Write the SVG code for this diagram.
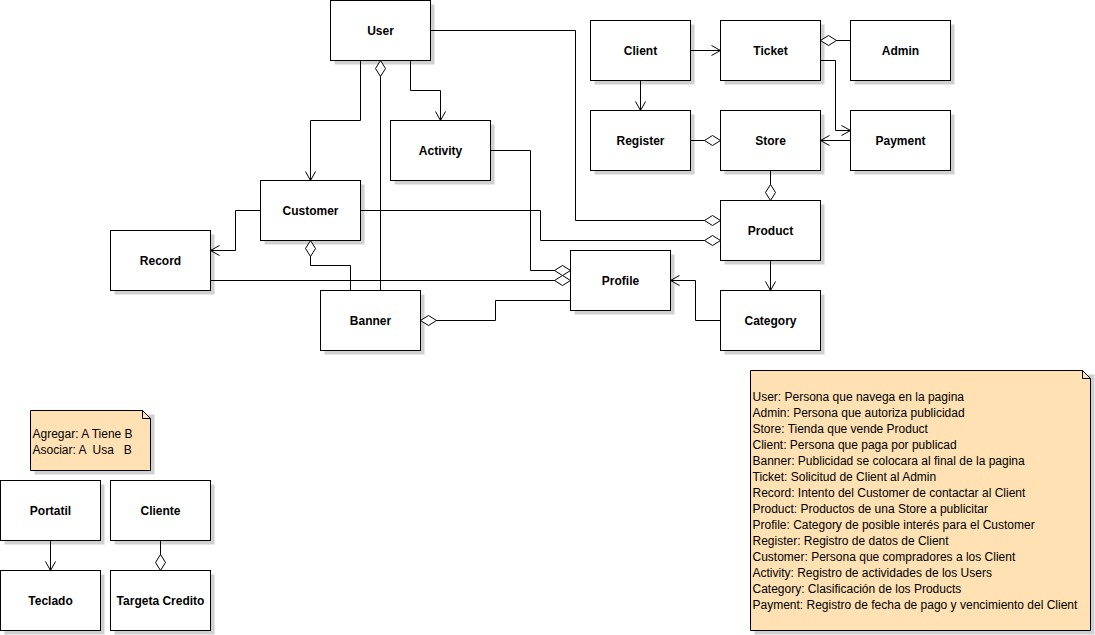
<svg xmlns="http://www.w3.org/2000/svg" width="1095" height="635" viewBox="0 0 1095 635">
<style>
.box{fill:#fff;stroke:#000;stroke-width:1}
.sh{fill:#d0d0d0;stroke:none}
.lbl{font-family:"Liberation Sans",Arial,sans-serif;font-size:12px;font-weight:bold;text-anchor:middle;fill:#000}
.note{fill:#ffe1b4;stroke:#000;stroke-width:1}
.nt{font-family:"Liberation Sans",Arial,sans-serif;font-size:12px;fill:#000;white-space:pre}
.c{fill:none;stroke:#000;stroke-width:1}
.ar{marker-end:url(#arrow)}
.dm{marker-end:url(#diamond)}
</style>
<defs>
<marker id="arrow" markerUnits="userSpaceOnUse" markerWidth="12" markerHeight="12" viewBox="0 0 12 12" refX="10" refY="6" orient="auto">
<path d="M1,1 L10,6 L1,11" fill="none" stroke="#000" stroke-width="1"/>
</marker>
<marker id="diamond" markerUnits="userSpaceOnUse" markerWidth="18" markerHeight="12" viewBox="0 0 18 12" refX="17" refY="6" orient="auto">
<path d="M1,6 L9,1 L17,6 L9,11 Z" fill="#fff" stroke="#000" stroke-width="1"/>
</marker>
</defs>
<rect x="0" y="0" width="1095" height="635" fill="#fff"/>
<g transform="translate(0.5,0.5)">
<g id="nodes">
<g id="User"><rect class="sh" x="334" y="4" width="100" height="60"/><rect class="box" x="330" y="0" width="100" height="60"/><text class="lbl" x="380" y="34">User</text></g>
<g id="Activity"><rect class="sh" x="394" y="124" width="100" height="60"/><rect class="box" x="390" y="120" width="100" height="60"/><text class="lbl" x="440" y="154">Activity</text></g>
<g id="Customer"><rect class="sh" x="264" y="184" width="100" height="60"/><rect class="box" x="260" y="180" width="100" height="60"/><text class="lbl" x="310" y="214">Customer</text></g>
<g id="Record"><rect class="sh" x="114" y="234" width="100" height="60"/><rect class="box" x="110" y="230" width="100" height="60"/><text class="lbl" x="160" y="264">Record</text></g>
<g id="Banner"><rect class="sh" x="324" y="294" width="100" height="60"/><rect class="box" x="320" y="290" width="100" height="60"/><text class="lbl" x="370" y="324">Banner</text></g>
<g id="Profile"><rect class="sh" x="574" y="254" width="100" height="60"/><rect class="box" x="570" y="250" width="100" height="60"/><text class="lbl" x="620" y="284">Profile</text></g>
<g id="Client"><rect class="sh" x="594" y="24" width="100" height="60"/><rect class="box" x="590" y="20" width="100" height="60"/><text class="lbl" x="640" y="54">Client</text></g>
<g id="Ticket"><rect class="sh" x="724" y="24" width="100" height="60"/><rect class="box" x="720" y="20" width="100" height="60"/><text class="lbl" x="770" y="54">Ticket</text></g>
<g id="Admin"><rect class="sh" x="854" y="24" width="100" height="60"/><rect class="box" x="850" y="20" width="100" height="60"/><text class="lbl" x="900" y="54">Admin</text></g>
<g id="Register"><rect class="sh" x="594" y="114" width="100" height="60"/><rect class="box" x="590" y="110" width="100" height="60"/><text class="lbl" x="640" y="144">Register</text></g>
<g id="Store"><rect class="sh" x="724" y="114" width="100" height="60"/><rect class="box" x="720" y="110" width="100" height="60"/><text class="lbl" x="770" y="144">Store</text></g>
<g id="Payment"><rect class="sh" x="854" y="114" width="100" height="60"/><rect class="box" x="850" y="110" width="100" height="60"/><text class="lbl" x="900" y="144">Payment</text></g>
<g id="Product"><rect class="sh" x="724" y="204" width="100" height="60"/><rect class="box" x="720" y="200" width="100" height="60"/><text class="lbl" x="770" y="234">Product</text></g>
<g id="Category"><rect class="sh" x="724" y="294" width="100" height="60"/><rect class="box" x="720" y="290" width="100" height="60"/><text class="lbl" x="770" y="324">Category</text></g>
<g id="Portatil"><rect class="sh" x="4" y="484" width="100" height="60"/><rect class="box" x="0" y="480" width="100" height="60"/><text class="lbl" x="50" y="514">Portatil</text></g>
<g id="Cliente"><rect class="sh" x="114" y="484" width="100" height="60"/><rect class="box" x="110" y="480" width="100" height="60"/><text class="lbl" x="160" y="514">Cliente</text></g>
<g id="Teclado"><rect class="sh" x="4" y="574" width="100" height="60"/><rect class="box" x="0" y="570" width="100" height="60"/><text class="lbl" x="50" y="604">Teclado</text></g>
<g id="TargetaCredito"><rect class="sh" x="114" y="574" width="100" height="60"/><rect class="box" x="110" y="570" width="100" height="60"/><text class="lbl" x="160" y="604">Targeta Credito</text></g>
<g id="LegendNote">
<path class="sh" d="M34,414 H154 V474 H34 Z"/>
<path class="note" d="M30,410 H142 L150,418 V470 H30 Z"/>
<path class="c" d="M142,410 V418 H150"/>
<text class="nt" x="32" y="437" xml:space="preserve">Agregar: A Tiene B</text>
<text class="nt" x="32" y="453" xml:space="preserve">Asociar: A  Usa   B</text>
</g>
<g id="GlossaryNote">
<path class="sh" d="M754,374 H1094 V634 H754 Z"/>
<path class="note" d="M750,370 H1082 L1090,378 V630 H750 Z"/>
<path class="c" d="M1082,370 V378 H1090"/>
<text class="nt" x="752" y="400">User: Persona que navega en la pagina</text>
<text class="nt" x="752" y="416">Admin: Persona que autoriza publicidad</text>
<text class="nt" x="752" y="432">Store: Tienda que vende Product</text>
<text class="nt" x="752" y="448">Client: Persona que paga por publicad</text>
<text class="nt" x="752" y="464">Banner: Publicidad se colocara al final de la pagina</text>
<text class="nt" x="752" y="480">Ticket: Solicitud de Client al Admin</text>
<text class="nt" x="752" y="496">Record: Intento del Customer de contactar al Client</text>
<text class="nt" x="752" y="512">Product: Productos de una Store a publicitar</text>
<text class="nt" x="752" y="528">Profile: Category de posible interés para el Customer</text>
<text class="nt" x="752" y="544">Register: Registro de datos de Client</text>
<text class="nt" x="752" y="560">Customer: Persona que compradores a los Client</text>
<text class="nt" x="752" y="576">Activity: Registro de actividades de los Users</text>
<text class="nt" x="752" y="592">Category: Clasificación de los Products</text>
<text class="nt" x="752" y="608">Payment: Registro de fecha de pago y vencimiento del Client</text>
</g>
</g>
<g id="connectors">
<path class="c ar" d="M360,60 V120 H310 V180"/>
<path class="c ar" d="M410,60 V90 H440 V120"/>
<path class="c dm" d="M380,290 V60"/>
<path class="c dm" d="M430,30 H575 V220 H720"/>
<path class="c dm" d="M360,210 H540 V240 H720"/>
<path class="c ar" d="M260,210 H235 V250 H210"/>
<path class="c dm" d="M350,290 V265 H310 V240"/>
<path class="c dm" d="M490,150 H530 V270 H570"/>
<path class="c dm" d="M210,280 H570"/>
<path class="c dm" d="M570,300 H495 V320 H420"/>
<path class="c ar" d="M720,320 H695 V280 H670"/>
<path class="c ar" d="M770,260 V290"/>
<path class="c dm" d="M770,170 V200"/>
<path class="c ar" d="M690,50 H720"/>
<path class="c ar" d="M640,80 V110"/>
<path class="c dm" d="M690,140 H720"/>
<path class="c dm" d="M850,40 H820"/>
<path class="c ar" d="M820,60 H835 V130 H850"/>
<path class="c ar" d="M850,140 H820"/>
<path class="c ar" d="M50,540 V570"/>
<path class="c dm" d="M160,540 V570"/>
</g>
</g>
</svg>
